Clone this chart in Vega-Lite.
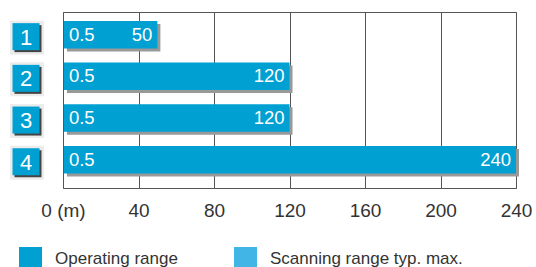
{
  "$schema": "https://vega.github.io/schema/vega-lite/v6.json",
  "width": 453,
  "height": 176,
  "autosize": {"type": "none"},
  "padding": {"left": 63, "top": 12, "right": 20, "bottom": 79},
  "config": {
    "view": {"stroke": "#555", "strokeWidth": 1},
    "font": "Liberation Sans"
  },
  "data": {
    "values": [
      {"id": "1", "start": 0.5, "end": 50, "type": "Operating range"},
      {"id": "2", "start": 0.5, "end": 120, "type": "Operating range"},
      {"id": "3", "start": 0.5, "end": 120, "type": "Operating range"},
      {"id": "4", "start": 0.5, "end": 240, "type": "Operating range"}
    ]
  },
  "encoding": {
    "y": {
      "field": "id",
      "type": "nominal",
      "axis": null,
      "scale": {"paddingInner": 0.34, "paddingOuter": 0.28, "align": 0.38}
    }
  },
  "layer": [
    {
      "mark": {"type": "bar", "color": "#999999", "xOffset": 3, "x2Offset": 3, "yOffset": 3, "y2Offset": 3, "cornerRadius": 0},
      "encoding": {
        "x": {
          "field": "start",
          "type": "quantitative",
          "scale": {"domain": [0, 240], "nice": false},
          "axis": {
            "values": [0, 40, 80, 120, 160, 200, 240],
            "grid": true,
            "gridColor": "#555",
            "gridWidth": 1,
            "domain": false,
            "ticks": false,
            "labelFontSize": 19,
            "labelColor": "#333",
            "labelPadding": 13,
            "labelFlush": false,
            "labelExpr": "datum.value == 0 ? '0 (m)' : datum.label",
            "title": null
          }
        },
        "x2": {"field": "end"}
      }
    },
    {
      "mark": {"type": "bar"},
      "encoding": {
        "x": {"field": "start", "type": "quantitative"},
        "x2": {"field": "end"},
        "color": {
          "field": "type",
          "type": "nominal",
          "scale": {
            "domain": ["Operating range", "Scanning range typ. max."],
            "range": ["#00a0d2", "#41b6e6"]
          },
          "legend": {
            "title": null,
            "orient": "none",
            "direction": "horizontal",
            "legendX": -44,
            "legendY": 235,
            "symbolType": "square",
            "symbolSize": 529,
            "symbolStrokeWidth": 0,
            "labelFontSize": 17,
            "labelColor": "#333",
            "labelOffset": 13,
            "columnPadding": 56,
            "labelLimit": 300
          }
        }
      }
    },
    {
      "mark": {"type": "text", "align": "left", "baseline": "middle", "dx": 5, "color": "white", "fontSize": 18.5},
      "encoding": {
        "x": {"field": "start", "type": "quantitative"},
        "text": {"field": "start", "type": "quantitative", "format": ".1f"}
      }
    },
    {
      "mark": {"type": "text", "align": "right", "baseline": "middle", "dx": -5, "color": "white", "fontSize": 18.5},
      "encoding": {
        "x": {"field": "end", "type": "quantitative"},
        "text": {"field": "end", "type": "quantitative"}
      }
    },
    {
      "mark": {"type": "point", "shape": "square", "filled": true, "color": "#ececec", "size": 1156, "opacity": 1, "xOffset": -36, "yOffset": 3},
      "encoding": {"x": {"datum": 0}}
    },
    {
      "mark": {"type": "point", "shape": "square", "filled": true, "color": "#444444", "size": 729, "opacity": 1, "xOffset": -35, "yOffset": 4},
      "encoding": {"x": {"datum": 0}}
    },
    {
      "mark": {"type": "point", "shape": "square", "filled": true, "color": "#00a0d2", "size": 729, "opacity": 1, "xOffset": -37, "yOffset": 2},
      "encoding": {"x": {"datum": 0}}
    },
    {
      "mark": {"type": "text", "align": "center", "baseline": "middle", "color": "white", "fontSize": 22, "xOffset": -37, "yOffset": 3},
      "encoding": {
        "x": {"datum": 0},
        "text": {"field": "id", "type": "nominal"}
      }
    }
  ]
}
